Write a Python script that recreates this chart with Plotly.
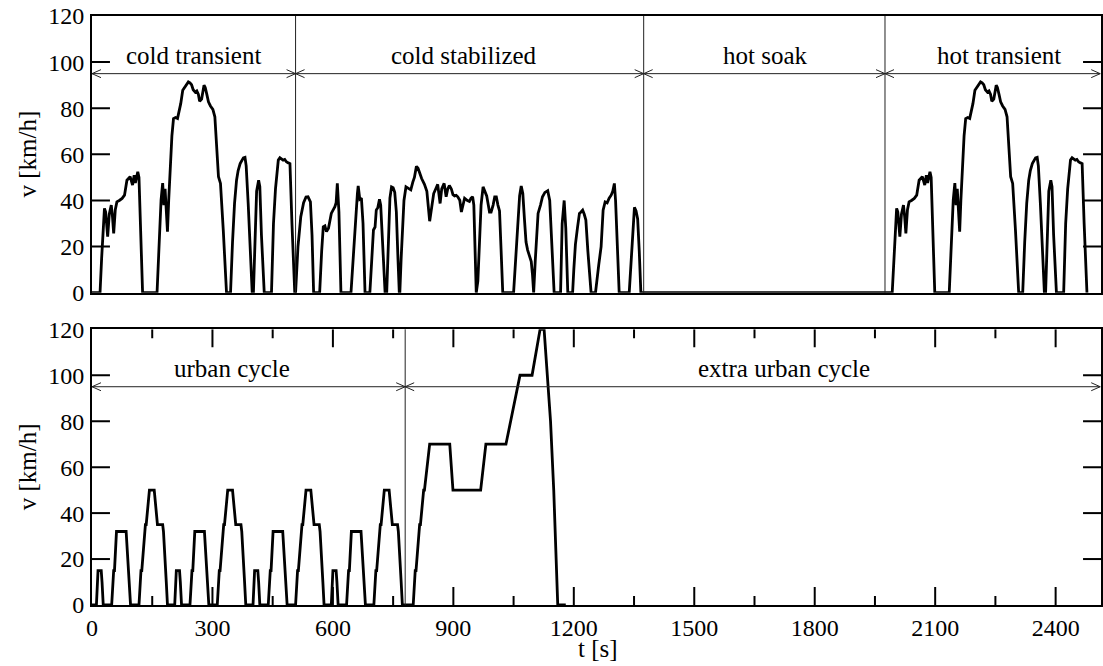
import plotly.graph_objects as go

# ---------------- data ----------------
# FTP-75: cold transient phase (s, km/h)
cold_t = [0, 20, 24, 28, 31, 34, 39, 43, 48, 51, 54, 58, 62, 68, 75, 81, 84, 87, 95, 98, 101,
          105, 108, 111, 114, 117, 126, 162, 168, 172, 176, 179, 182, 185, 188, 191, 195, 199,
          203, 208, 213, 218, 221, 226, 231, 236, 240, 244, 248, 252, 257, 261, 265, 268, 273,
          279, 282, 286, 290, 295, 301, 306, 310, 315, 320, 324, 327, 335, 345, 350, 355, 360,
          364, 369, 373, 377, 381, 384, 389, 399, 402, 406, 410, 415, 418, 422, 429, 447, 452,
          457, 461, 464, 468, 472, 476, 480, 484, 489, 493, 498, 505]
cold_v = [0, 0, 15, 30, 36.6, 35, 24.3, 34, 38, 33, 25.7, 36, 39.4, 40, 40.9, 42.3, 46, 48.8,
          50.3, 48, 46.7, 51, 47.6, 50, 52.4, 50, 0, 0, 25, 40.2, 47.5, 38, 45, 35, 26.5, 40,
          58, 68, 75.5, 76, 75.6, 79, 82, 87.8, 89, 90, 91.4, 91, 90.2, 88, 87, 87.5, 86, 83,
          84, 90, 89, 86, 82.8, 81, 79.5, 76.3, 62, 50.3, 47.4, 38, 27, 0, 0, 22, 38.7, 48.8,
          53, 56, 57.5, 58.5, 58.7, 55, 38.7, 0, 0, 25, 44, 48.8, 46, 25, 0, 0, 30, 45, 52,
          57.5, 58.5, 58, 57.5, 57.8, 56.8, 56.3, 56, 30, 0]

# FTP-75: cold stabilized phase
stab_t = [507, 513, 520, 527, 533, 538, 544, 548, 552, 567, 572, 576, 580, 584, 589, 593, 596,
          601, 605, 608, 611, 615, 620, 645, 652, 657, 661, 663, 667, 671, 675, 680, 692, 697,
          701, 705, 708, 712, 716, 719, 724, 730, 734, 738, 742, 746, 750, 754, 758, 762, 766,
          770, 774, 777, 782, 787, 794, 799, 803, 808, 812, 816, 821, 828, 834, 841, 846, 851,
          856, 861, 867, 871, 877, 882, 886, 890, 895, 899, 903, 907, 911, 916, 920, 924, 928,
          935, 940, 944, 948, 951, 954, 957, 961, 965, 969, 974, 978, 983, 987, 990, 994, 999,
          1003, 1007, 1011, 1015, 1019, 1023, 1050, 1055, 1060, 1065, 1069, 1073, 1077, 1081,
          1085, 1090, 1094, 1097, 1100, 1104, 1108, 1111, 1117, 1122, 1128, 1135, 1140, 1144,
          1151, 1167, 1171, 1176, 1180, 1185, 1197, 1200, 1204, 1209, 1214, 1218, 1222, 1226,
          1230, 1235, 1243, 1254, 1258, 1262, 1268, 1273, 1278, 1283, 1288, 1293, 1297, 1301,
          1304, 1308, 1313, 1338, 1343, 1347, 1351, 1355, 1359, 1363, 1367]
stab_v = [0, 20, 33, 39, 41.5, 41.6, 39.4, 25, 0, 0, 18, 28.6, 29, 26.5, 28, 31, 34.4, 36,
          37.3, 39, 47.4, 35, 0, 0, 20, 35, 43, 46.3, 40.5, 41, 30, 0, 0, 15, 27.2, 28.5,
          35.8, 37, 40.5, 38, 20, 0, 0, 25, 41, 45.9, 45.5, 43.5, 35, 15, -3, 15, 27.8, 40,
          45.9, 45.5, 44.6, 48, 50, 54.8, 54, 52, 49.5, 47, 44, 31, 38, 43, 45, 47, 38.7, 45,
          47.4, 41.6, 45, 46.5, 45, 42.5, 42, 42.2, 41.6, 40.1, 35, 38, 41, 40, 39.6, 41,
          41.6, 38, 20, 0, 5, 22, 38, 45.9, 44, 42, 38, 35, 35, 38, 41.6, 41.6, 38, 35.5, 18,
          0, 0, 15, 32, 42, 46.3, 43, 32, 22, 18.5, 16, 13.5, 8, 0, 14, 28, 34.4, 38, 41.6,
          43.5, 44.2, 40, 25, 0, 0, 30, 40, 28, 0, 0, 10, 21, 28, 34.4, 35, 35.8, 34, 31.5,
          18, 0, 0, 5, 12, 20, 35.8, 39.4, 39, 41, 42.3, 44, 47.4, 40, 20, 0, 0, 15, 30, 37,
          35.5, 32, 18, 0]

# FTP-75 phase boundaries (s) and labels
ftp_bounds = [507, 1374, 1975]
hot_offset = 1973
ftp_labels = ["cold transient", "cold stabilized", "hot soak", "hot transient"]
ftp_label_t = [253, 926, 1678, 2260]

# NEDC: one ECE-15 urban cycle (repeated 4x) and the extra urban cycle
ece_t = [0, 11, 15, 23, 25, 28, 49, 54, 56, 61, 85, 93, 96, 117, 122, 124, 133, 135, 143,
         155, 163, 176, 178, 185, 188, 195]
ece_v = [0, 0, 15, 15, 10, 0, 0, 15, 15, 32, 32, 10, 0, 0, 15, 15, 35, 35, 50, 50, 35, 35,
         32, 10, 0, 0]
ece_repeats = 4
eudc_t = [0, 20, 25, 27, 36, 38, 46, 48, 61, 111, 119, 188, 201, 251, 286, 316, 336, 346,
          362, 370, 380, 400]
eudc_v = [0, 0, 15, 15, 35, 35, 50, 50, 70, 70, 50, 50, 70, 70, 100, 100, 120, 120, 80, 50,
          0, 0]
nedc_bound = 780
nedc_labels = ["urban cycle", "extra urban cycle"]
nedc_label_t = [348, 1723]

x_ticks = [0, 300, 600, 900, 1200, 1500, 1800, 2100, 2400]
x_minor = [150, 450, 750, 1050, 1350, 1650, 1950, 2250]
y_ticks = [0, 20, 40, 60, 80, 100, 120]

# ---------------- assemble series ----------------
top_t = cold_t + stab_t + [1367, ftp_bounds[2] + 18] + [t + hot_offset for t in cold_t[1:]]
top_v = cold_v + stab_v + [0, 0] + cold_v[1:]

bot_t, bot_v = [], []
for k in range(ece_repeats):
    bot_t += [t + 195 * k for t in ece_t]
    bot_v += ece_v
bot_t += [t + nedc_bound for t in eudc_t]
bot_v += eudc_v

# ---------------- figure ----------------
W, H = 1103, 666
ML, MR, MT, MB = 92, 0, 16, 61
XMAX = 2513
YMAX = 120
FONT = "Liberation Serif"
fs_tick = 24
fs_text = 25
TOP_DOM = [0.5302, 1]
BOT_DOM = [0, 0.4681]
plot_w = W - ML - MR
plot_h = H - MT - MB

fig = go.Figure()
fig.add_trace(go.Scatter(x=top_t, y=top_v, mode="lines", xaxis="x2", yaxis="y2",
                         line=dict(color="black", width=2.8), showlegend=False))
fig.add_trace(go.Scatter(x=bot_t, y=bot_v, mode="lines", xaxis="x", yaxis="y",
                         line=dict(color="black", width=2.8), showlegend=False))


def yax(dom, anchor):
    return dict(domain=dom, anchor=anchor, range=[0, YMAX], tickvals=y_ticks,
                ticks="", showline=True, linecolor="black", linewidth=2, mirror=True,
                showgrid=False, zeroline=False, ticklabelstandoff=1,
                tickfont=dict(family=FONT, size=fs_tick, color="black"))


fig.update_layout(
    width=W, height=H, showlegend=False,
    margin=dict(l=ML, r=MR, t=MT, b=MB),
    paper_bgcolor="white", plot_bgcolor="white",
    xaxis=dict(domain=[0, 1], anchor="y", range=[0, XMAX], tickvals=x_ticks,
               ticks="", showline=True, linecolor="black", linewidth=2, mirror=True,
               showgrid=False, zeroline=False, ticklabelstandoff=0,
               tickfont=dict(family=FONT, size=fs_tick, color="black")),
    yaxis=yax(BOT_DOM, "x"),
    xaxis2=dict(domain=[0, 1], anchor="y2", range=[0, XMAX], showticklabels=False,
                ticks="", showline=True, linecolor="black", linewidth=2, mirror=True,
                showgrid=False, zeroline=False),
    yaxis2=yax(TOP_DOM, "x2"),
)

shapes = []
annotations = []
TC = "black"


# inside tick marks (major 18 px, minor 9 px) drawn in axis units
def px_x(p):
    return p * XMAX / plot_w


def px_y(p, dom):
    return p * YMAX / (plot_h * (dom[1] - dom[0]))


for xref, yref, dom in (("x2", "y2", TOP_DOM), ("x", "y", BOT_DOM)):
    for yv in y_ticks[1:-1]:
        shapes.append(dict(type="line", xref=xref, yref=yref, x0=0, x1=px_x(18),
                           y0=yv, y1=yv, line=dict(color=TC, width=2)))
        shapes.append(dict(type="line", xref=xref, yref=yref, x0=XMAX - px_x(18), x1=XMAX,
                           y0=yv, y1=yv, line=dict(color=TC, width=2)))

for xv, ln in [(v, 18) for v in x_ticks[1:]] + [(v, 9) for v in x_minor]:
    for y0, y1 in ((0, px_y(ln, BOT_DOM)), (YMAX - px_y(ln, BOT_DOM), YMAX)):
        shapes.append(dict(type="line", xref="x", yref="y", x0=xv, x1=xv, y0=y0, y1=y1,
                           line=dict(color=TC, width=2)))

# phase arrows, boundaries and labels
ARROW_Y = 95
LABEL_Y = 102.8
LC = "#222"
HX = px_x(9)


def add_segments(xref, yref, bounds, labels, label_t, dom):
    hy = px_y(4, dom)
    edges = [0] + bounds + [XMAX - 2]
    for b in bounds:
        shapes.append(dict(type="line", xref=xref, yref=yref + " domain", x0=b, x1=b,
                           y0=0, y1=1, line=dict(color=LC, width=1)))
    for i in range(len(edges) - 1):
        a, b = edges[i], edges[i + 1]
        shapes.append(dict(type="line", xref=xref, yref=yref, x0=a, x1=b, y0=ARROW_Y,
                           y1=ARROW_Y, line=dict(color=LC, width=1)))
        for tip, d in ((a, 1), (b, -1)):
            shapes.append(dict(type="path", xref=xref, yref=yref,
                               path=f"M{tip + d * HX},{ARROW_Y + hy} L{tip},{ARROW_Y} "
                                    f"L{tip + d * HX},{ARROW_Y - hy}",
                               line=dict(color=LC, width=1)))
    for txt, tx in zip(labels, label_t):
        annotations.append(dict(xref=xref, yref=yref, x=tx, y=LABEL_Y, text=txt,
                                showarrow=False, xanchor="center", yanchor="middle",
                                font=dict(family=FONT, size=fs_text, color="black")))


add_segments("x2", "y2", ftp_bounds, ftp_labels, ftp_label_t, TOP_DOM)
add_segments("x", "y", [nedc_bound], nedc_labels, nedc_label_t, BOT_DOM)

# axis titles
title_font = dict(family=FONT, size=fs_text, color="black")
for dom in (TOP_DOM, BOT_DOM):
    annotations.append(dict(xref="paper", yref="paper", x=(27 - ML) / plot_w,
                            y=(dom[0] + dom[1]) / 2, text="v [km/h]", textangle=-90,
                            showarrow=False, xanchor="center", yanchor="middle",
                            font=title_font))
annotations.append(dict(xref="paper", yref="paper", x=(599 - ML) / plot_w,
                        y=-(648 - (H - MB)) / plot_h,
                        text="t [s]", showarrow=False, xanchor="center", yanchor="middle",
                        font=title_font))

fig.update_layout(shapes=shapes, annotations=annotations)
fig.write_html("out.html")
